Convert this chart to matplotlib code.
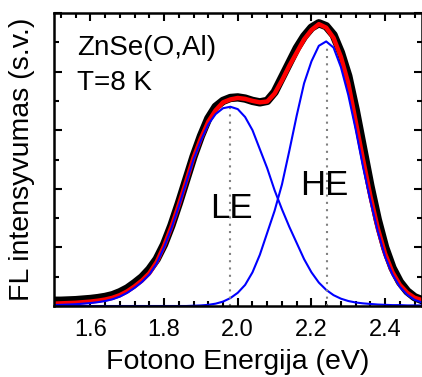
import numpy as np
import matplotlib
matplotlib.use("Agg")
import matplotlib.pyplot as plt
from matplotlib.ticker import MultipleLocator

plt.rcParams['font.family'] = ['Liberation Sans', 'DejaVu Sans']

# photon energy grid (eV)
energy = [1.50, 1.52, 1.54, 1.56, 1.58, 1.60, 1.62, 1.64, 1.66, 1.68,
          1.70, 1.72, 1.74, 1.76, 1.78, 1.80, 1.82, 1.84, 1.86, 1.88,
          1.90, 1.92, 1.94, 1.96, 1.98, 2.00, 2.02, 2.04, 2.06, 2.08,
          2.10, 2.12, 2.14, 2.16, 2.18, 2.20, 2.22, 2.24, 2.26, 2.28,
          2.30, 2.32, 2.34, 2.36, 2.38, 2.40, 2.42, 2.44, 2.46, 2.48, 2.50]

# measured spectrum
measured = [0.18, 0.18, 0.19, 0.20, 0.22, 0.24, 0.27, 0.31, 0.37, 0.47,
            0.60, 0.78, 0.98, 1.25, 1.60, 2.10, 2.75, 3.50, 4.30, 5.10,
            5.80, 6.40, 6.80, 7.00, 7.10, 7.12, 7.08, 7.00, 6.95, 7.00,
            7.30, 7.80, 8.30, 8.80, 9.20, 9.50, 9.65, 9.55, 9.25, 8.65,
            7.85, 6.70, 5.40, 4.10, 2.95, 2.00, 1.30, 0.82, 0.50, 0.30, 0.20]

# total fit
fit = [0.08, 0.09, 0.10, 0.11, 0.13, 0.15, 0.18, 0.22, 0.28, 0.37,
       0.50, 0.67, 0.87, 1.12, 1.50, 2.05, 2.70, 3.45, 4.25, 5.06,
       5.72, 6.29, 6.68, 6.95, 7.05, 7.10, 7.07, 7.00, 6.95, 6.98,
       7.25, 7.70, 8.20, 8.65, 9.10, 9.42, 9.62, 9.50, 9.15, 8.50,
       7.60, 6.30, 5.00, 3.75, 2.65, 1.78, 1.15, 0.72, 0.45, 0.28, 0.20]

# low energy band
le_band = [0.03, 0.04, 0.05, 0.06, 0.08, 0.10, 0.13, 0.17, 0.23, 0.32,
           0.45, 0.62, 0.82, 1.07, 1.45, 2.00, 2.65, 3.40, 4.20, 5.00,
           5.65, 6.20, 6.55, 6.75, 6.80, 6.72, 6.45, 6.00, 5.35, 4.70,
           3.95, 3.30, 2.70, 2.15, 1.60, 1.15, 0.80, 0.55, 0.37, 0.25,
           0.17, 0.12, 0.09, 0.07, 0.05, 0.04, 0.03, 0.03, 0.02, 0.02, 0.02]

# high energy band
he_band = [0.00, 0.00, 0.00, 0.00, 0.00, 0.00, 0.00, 0.00, 0.00, 0.00,
           0.00, 0.00, 0.00, 0.00, 0.00, 0.00, 0.00, 0.00, 0.00, 0.01,
           0.02, 0.04, 0.08, 0.15, 0.27, 0.45, 0.72, 1.15, 1.75, 2.50,
           3.25, 4.15, 5.30, 6.50, 7.60, 8.35, 8.88, 9.03, 8.82, 8.15,
           7.20, 6.03, 4.75, 3.60, 2.55, 1.68, 1.07, 0.65, 0.38, 0.21, 0.12]

# band peak positions and heights
peak_pos = [1.978, 2.242]
peak_top = [6.75, 8.95]

fig = plt.figure(figsize=(4.22, 3.77), dpi=100)
ax = fig.add_axes([53.5 / 422, 71 / 377, 368.5 / 422, 293 / 377])

ax.plot(energy, measured, color='black', lw=6, solid_joinstyle='round')
ax.plot(energy, fit, color='red', lw=3.2)
ax.plot(energy, le_band, color='blue', lw=1.5)
ax.plot(energy, he_band, color='blue', lw=1.5)
for xp, yp in zip(peak_pos, peak_top):
    ax.plot([xp, xp], [0, yp], color='gray', lw=1.5, ls=(0, (1, 2.5)))

ax.set_xlim(1.5, 2.5)
ax.set_ylim(0, 10)
ax.xaxis.set_major_locator(MultipleLocator(0.2))
ax.xaxis.set_minor_locator(MultipleLocator(0.04))
ax.yaxis.set_major_locator(MultipleLocator(2))
ax.yaxis.set_minor_locator(MultipleLocator(1))
ax.set_yticklabels([])
ax.tick_params(which='both', direction='in', top=True, right=True, width=1.5)
ax.tick_params(which='major', length=6)
ax.tick_params(which='minor', length=3.5)
ax.tick_params(axis='x', labelsize=17, pad=9)
for s in ax.spines.values():
    s.set_linewidth(1.8)

ax.set_xlabel('Fotono Energija (eV)', fontsize=20.5, labelpad=6)
ax.set_ylabel('FL intensyvumas (s.v.)', fontsize=20.5, labelpad=10)

ax.text(1.563, (306 - 55) / 29.3, 'ZnSe(O,Al)', fontsize=20, va='baseline')
ax.text(1.563, (306 - 90) / 29.3, 'T=8 K', fontsize=20, va='baseline')
ax.text(1.925, (306 - 218) / 29.3, 'LE', fontsize=25, va='baseline')
ax.text(2.17, (306 - 195) / 29.3, 'HE', fontsize=25, va='baseline')

fig.savefig('out.png', dpi=100)
